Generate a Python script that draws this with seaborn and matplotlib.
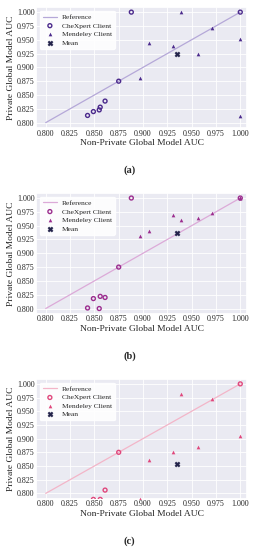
"""
Private vs non-private global model AUC, three panels (a), (b), (c)
"""

import matplotlib
matplotlib.use('Agg')
import matplotlib.pyplot as plt
import seaborn as sns

# reference diagonal
ref_x = [0.800, 1.000]

# CheXpert clients (x shared across panels)
chex_x = [0.888, 1.000, 0.875, 0.861, 0.856, 0.855, 0.849, 0.843]
chex_y_a = [1.000, 1.000, 0.875, 0.839, 0.828, 0.823, 0.820, 0.813]
chex_y_b = [1.000, 1.000, 0.875, 0.820, 0.822, 0.800, 0.818, 0.801]
chex_x_c = [1.000, 0.875, 0.861, 0.856, 0.849]
chex_y_c = [1.000, 0.875, 0.806, 0.789, 0.789]

# Mendeley clients
mend_x = [0.897, 0.906, 0.931, 0.939, 0.957, 0.971, 1.000, 1.000]
mend_y_a = [0.881, 0.945, 0.939, 1.000, 0.925, 0.972, 0.952, 0.812]
mend_y_b = [0.932, 0.940, 0.970, 0.961, 0.963, 0.973, 1.000, 1.000]
mend_x_c = [0.897, 0.906, 0.931, 0.939, 0.957, 0.971, 1.000]
mend_y_c = [0.789, 0.861, 0.876, 0.981, 0.884, 0.973, 0.905]

# mean point per panel
mean_x = [0.935, 0.935, 0.935]
mean_y = [0.925, 0.937, 0.853]

ticks = [0.800, 0.825, 0.850, 0.875, 0.900, 0.925, 0.950, 0.975, 1.000]
tick_labels = ['0.800', '0.825', '0.850', '0.875', '0.900', '0.925', '0.950', '0.975', '1.000']

panels = [
    dict(cx=chex_x, cy=chex_y_a, mx=mend_x, my=mend_y_a, mark='#4b2a8c', line='#b5a8d8',
         pos=[0.139, 0.767, 0.815, 0.220], cap='(a)', cap_y=0.682),
    dict(cx=chex_x, cy=chex_y_b, mx=mend_x, my=mend_y_b, mark='#9b2d8e', line='#dcaad8',
         pos=[0.139, 0.429, 0.815, 0.220], cap='(b)', cap_y=0.344),
    dict(cx=chex_x_c, cy=chex_y_c, mx=mend_x_c, my=mend_y_c, mark='#e0477c', line='#f3b5c8',
         pos=[0.139, 0.093, 0.815, 0.218], cap='(c)', cap_y=0.008),
]

sns.set_theme(style='darkgrid')
plt.rcParams['font.family'] = ['Liberation Serif', 'DejaVu Serif']

fig = plt.figure(figsize=(2.59, 5.5), dpi=100)

for i, p in enumerate(panels):
    ax = fig.add_axes(p['pos'])
    sns.lineplot(x=ref_x, y=ref_x, ax=ax, color=p['line'], lw=0.9, label='Reference')
    sns.scatterplot(x=p['cx'], y=p['cy'], ax=ax, marker='o', s=8, facecolor='none',
                    edgecolor=p['mark'], linewidth=1.0, label='CheXpert Client', zorder=3)
    sns.scatterplot(x=p['mx'], y=p['my'], ax=ax, marker='^', s=7, color=p['mark'],
                    linewidth=0, label='Mendeley Client', zorder=3)
    sns.scatterplot(x=[mean_x[i]], y=[mean_y[i]], ax=ax, marker='X', s=14, color='#22224a',
                    linewidth=0.3, edgecolor='#22224a', label='Mean', zorder=4)
    ax.set_xlim(0.79, 1.007)
    ax.set_ylim(0.79, 1.009)
    ax.set_xticks(ticks)
    ax.set_xticklabels(tick_labels, fontsize=5.8)
    ax.set_yticks(ticks)
    ax.set_yticklabels(tick_labels, fontsize=5.8)
    ax.tick_params(pad=1, length=0)
    ax.grid(True, color='white', lw=0.6)
    ax.set_xlabel('Non-Private Global Model AUC', fontsize=6.8, labelpad=1)
    ax.set_ylabel('Private Global Model AUC', fontsize=6.8, labelpad=1)
    ax.legend(loc='upper left', fontsize=5.4, frameon=True, facecolor='white',
              edgecolor='white', framealpha=0.9, handlelength=1.9,
              borderpad=0.4, labelspacing=0.3, handletextpad=0.6)
    fig.text(0.5, p['cap_y'], p['cap'], ha='center', va='bottom', fontsize=7.5, fontweight='bold')

plt.savefig('out.png', dpi=100)
plt.close()
